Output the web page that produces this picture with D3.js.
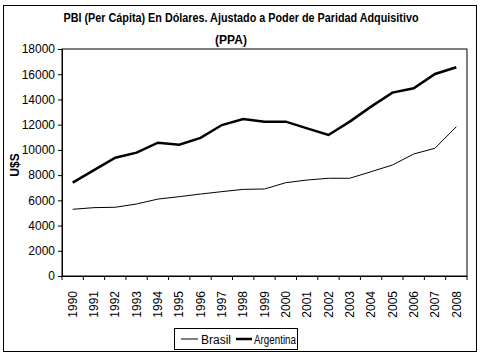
<!DOCTYPE html>
<html><head><meta charset="utf-8">
<script src="https://cdn.jsdelivr.net/npm/d3@7"></script>
<style>body{margin:0;background:#fff}svg{display:block}</style>
</head><body>
<svg id="c" width="480" height="357"></svg>
<script>
const years = ["1990","1991","1992","1993","1994","1995","1996","1997","1998","1999","2000","2001","2002","2003","2004","2005","2006","2007","2008"];
const brasil = [5290,5420,5450,5710,6100,6290,6500,6690,6870,6900,7400,7610,7750,7750,8270,8800,9675,10130,11840];
const argentina = [7400,8400,9380,9780,10570,10410,10950,11970,12450,12240,12240,11710,11180,12240,13430,14540,14880,16020,16550];
const yTicks = [0,2000,4000,6000,8000,10000,12000,14000,16000,18000];
const titleLines = ["PBI (Per Cápita) En Dólares. Ajustado a Poder de Paridad Adquisitivo","(PPA)"];
const yLabel = "U$S";
const legendNames = ["Brasil","Argentina"];

const svg = d3.select("#c");
const font = "'Liberation Sans', Arial, sans-serif";
const L=62, R=467, T=49, B=276;

svg.append("rect").attr("x",3.5).attr("y",5.5).attr("width",473).attr("height",346)
  .attr("fill","#fff").attr("stroke","#000").attr("stroke-width",1);

const x = d3.scaleBand().domain(years).range([L,R]);
const y = d3.scaleLinear().domain([0,18000]).range([B,T]);

svg.append("rect").attr("x",L).attr("y",T).attr("width",R-L).attr("height",B-T)
  .attr("fill","none").attr("stroke","#000");

const ya = svg.append("g").attr("transform",`translate(${L},0)`)
  .call(d3.axisLeft(y).tickValues(yTicks).tickSize(4).tickPadding(3).tickFormat(d3.format("d")));
ya.selectAll("text").attr("font-family",font).attr("font-size",12).attr("fill","#000");
ya.select(".domain").attr("stroke","#000");

const xa = svg.append("g").attr("transform",`translate(0,${B})`)
  .call(d3.axisBottom(x).tickSize(0).tickPadding(0));
xa.select(".domain").remove();
xa.selectAll("text").attr("font-family",font).attr("font-size",12).attr("fill","#000")
  .attr("transform","rotate(-90)").attr("text-anchor","end").attr("dy","0.35em").attr("x",-15).attr("y",0);
// tick marks at band boundaries
const bounds = years.map(d=>x(d)).concat([R]);
svg.append("g").selectAll("line").data(bounds).join("line")
  .attr("x1",d=>d).attr("x2",d=>d).attr("y1",B).attr("y2",B+4).attr("stroke","#000");
svg.append("line").attr("x1",L).attr("x2",R).attr("y1",B+0.5).attr("y2",B+0.5).attr("stroke","#000");

const line = d3.line().x((d,i)=>x(years[i])+x.bandwidth()/2).y(d=>y(d));
svg.append("path").datum(brasil).attr("d",line).attr("fill","none").attr("stroke","#000").attr("stroke-width",1);
svg.append("path").datum(argentina).attr("d",line).attr("fill","none").attr("stroke","#000").attr("stroke-width",2.5);

svg.append("text").attr("x",241).attr("y",22).attr("text-anchor","middle")
  .attr("font-family",font).attr("font-weight","bold").attr("font-size",12)
  .attr("textLength",355).attr("lengthAdjust","spacingAndGlyphs").text(titleLines[0]);
svg.append("text").attr("x",231).attr("y",44).attr("text-anchor","middle")
  .attr("font-family",font).attr("font-weight","bold").attr("font-size",12).text(titleLines[1]);

svg.append("text").attr("transform","translate(19,165) rotate(-90)").attr("text-anchor","middle")
  .attr("font-family",font).attr("font-weight","bold").attr("font-size",12).text(yLabel);

// legend
const lg = svg.append("g");
lg.append("rect").attr("x",174.5).attr("y",328.5).attr("width",123).attr("height",21).attr("fill","#fff").attr("stroke","#000");
lg.append("line").attr("x1",181).attr("x2",198).attr("y1",339).attr("y2",339).attr("stroke","#000").attr("stroke-width",1);
lg.append("text").attr("x",201).attr("y",343.5).attr("font-family",font).attr("font-size",12).text(legendNames[0]);
lg.append("line").attr("x1",236).attr("x2",252).attr("y1",339).attr("y2",339).attr("stroke","#000").attr("stroke-width",2.5);
lg.append("text").attr("x",254).attr("y",343.5).attr("font-family",font).attr("font-size",12)
  .attr("textLength",42).attr("lengthAdjust","spacingAndGlyphs").text(legendNames[1]);
</script>
</body></html>
